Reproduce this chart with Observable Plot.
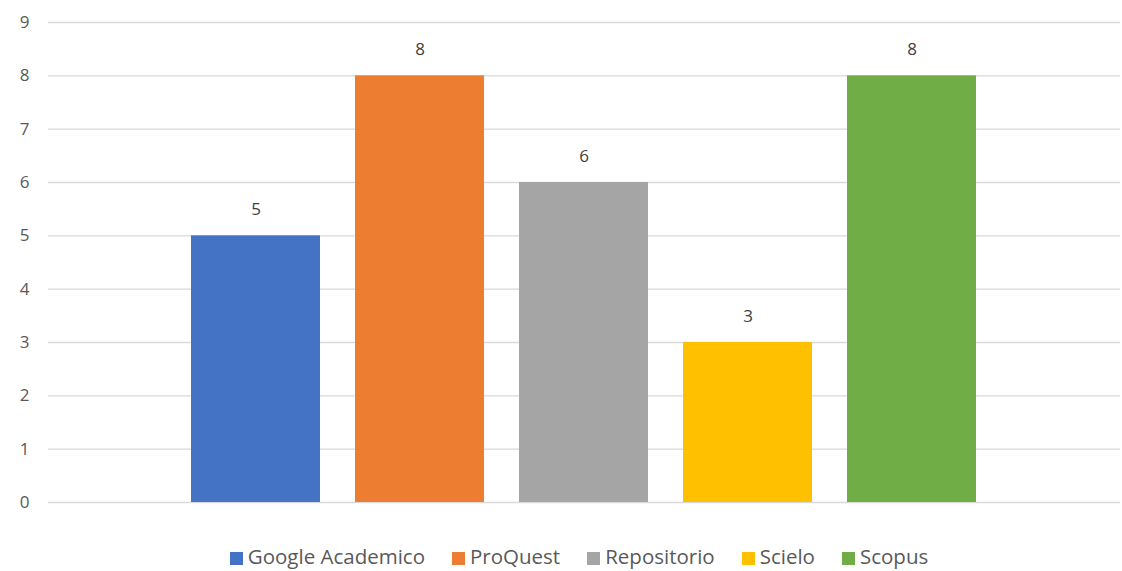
<!DOCTYPE html>
<html><head><meta charset="utf-8">
<script src="https://cdn.jsdelivr.net/npm/d3@7"></script>
<script src="https://cdn.jsdelivr.net/npm/@observablehq/plot@0.6"></script>
<style>
body{margin:0;background:#fff;font-family:"Open Sans",sans-serif;}
#legend{display:flex;justify-content:center;gap:27px;font-size:20.5px;color:#595959;height:52px;align-items:center;padding-left:36px;}
#legend span.sw{display:inline-block;width:13px;height:13px;margin-right:5px;vertical-align:-1px;}
</style></head>
<body><div id="chart"></div><div id="legend"></div>
<script>
const sources = ["Google Academico","ProQuest","Repositorio","Scielo","Scopus"];
const counts = [5,8,6,3,8];
const colors = ["#4472C4","#ED7D31","#A5A5A5","#FFC000","#70AD47"];
const yTicks = [0,1,2,3,4,5,6,7,8,9];

const data = sources.map((s,i)=>({source:s,count:counts[i]}));
const plot = Plot.plot({
  width:1122, height:530,
  marginTop:22, marginBottom:28, marginLeft:48, marginRight:2,
  style:{fontFamily:"'Open Sans',sans-serif",fontSize:"16px",color:"#595959",background:"#fff"},
  x:{domain:sources, paddingInner:0.212, paddingOuter:0.855, axis:null},
  y:{domain:[0,9], ticks:yTicks},
  color:{domain:sources, range:colors},
  marks:[
    Plot.ruleY(yTicks,{stroke:"#d9d9d9",strokeWidth:1.3}),
    Plot.axisY({ticks:yTicks, tickSize:0, tickPadding:19, label:null, fontSize:17, fill:"#595959"}),
    Plot.barY(data,{x:"source",y:"count",fill:"source"}),
    Plot.text(data,{x:"source",y:"count",text:d=>String(d.count),dy:-26,fontSize:17,fill:"#404040"})
  ]
});
document.getElementById("chart").appendChild(plot);
const lg=document.getElementById("legend");
sources.forEach((s,i)=>{const d=document.createElement("div");d.innerHTML=`<span class="sw" style="background:${colors[i]}"></span>${s}`;lg.appendChild(d);});
</script></body></html>
